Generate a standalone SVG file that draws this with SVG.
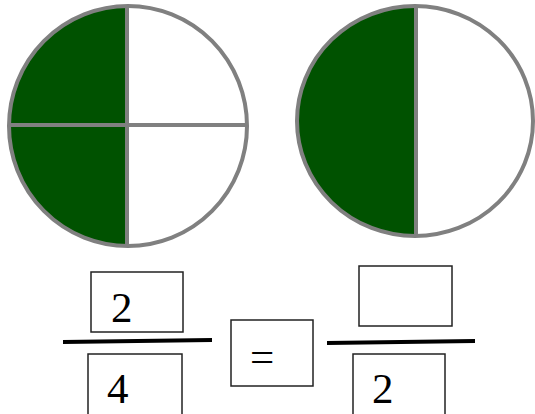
<svg xmlns="http://www.w3.org/2000/svg" width="535" height="414" viewBox="0 0 535 414">
<style>
.rim{fill:none;stroke:#808080;stroke-width:4}
.div{stroke:#808080;stroke-width:4}
.g{fill:#005200}
.box{fill:#fff;stroke:#222;stroke-width:1.5}
.bar{stroke:#000;stroke-width:4;stroke-linecap:butt}
.t{font-family:"Liberation Serif","Times New Roman",serif;font-size:43px;fill:#000}
</style>
<rect width="535" height="414" fill="#fff"/>
<g id="circle1">
<path class="g" d="M127,6 A119,120 0 0 0 127,246 Z"/>
<ellipse class="rim" cx="128" cy="126" rx="119" ry="120"/>
<line class="div" x1="127" y1="5" x2="127" y2="247"/>
<line class="div" x1="8" y1="125" x2="248" y2="125"/>
</g>
<g id="circle2">
<path class="g" d="M416,6 A118,115 0 0 0 416,236 Z"/>
<ellipse class="rim" cx="415" cy="121" rx="118" ry="115"/>
<line class="div" x1="416" y1="5" x2="416" y2="237"/>
</g>
<g id="frac1">
<rect class="box" x="91" y="272" width="92" height="60"/>
<text class="t" x="111" y="322">2</text>
<line class="bar" x1="63" y1="342" x2="212" y2="340"/>
<rect class="box" x="88" y="354" width="94" height="62"/>
<text class="t" x="107" y="403">4</text>
</g>
<g id="equals">
<rect class="box" x="231" y="320" width="82" height="66"/>
<text class="t" x="250" y="371">=</text>
</g>
<g id="frac2">
<rect class="box" x="359" y="266" width="93" height="60"/>
<line class="bar" x1="327" y1="343" x2="475" y2="341"/>
<rect class="box" x="353" y="354" width="92" height="62"/>
<text class="t" x="372" y="403">2</text>
</g>
</svg>
